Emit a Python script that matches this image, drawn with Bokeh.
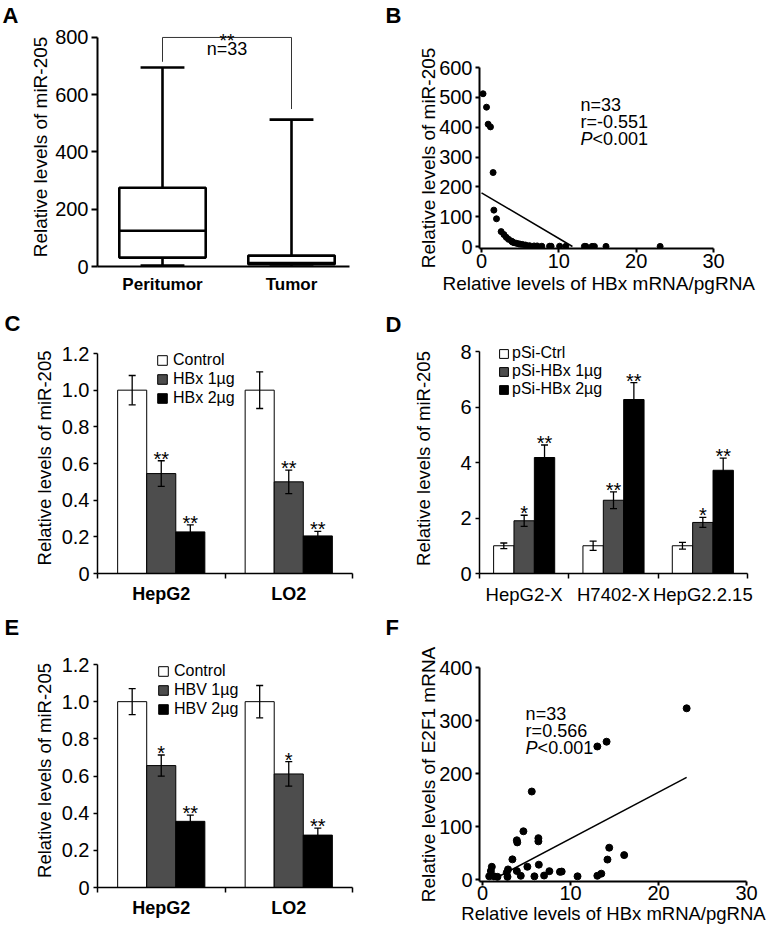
import numpy as np
from bokeh.plotting import figure
from bokeh.models import (ColumnDataSource, Whisker, TeeHead, Label, LabelSet, Legend,
                          LegendItem, FixedTicker, Range1d, Title)
from bokeh.layouts import row, column
from bokeh.embed import file_html
from bokeh.resources import INLINE
from bokeh.core.properties import value

FONT = "Liberation Sans"

# ===================== DATA =====================
# (A) box-plot summary of relative miR-205 levels (n = 33)
a_groups = ["Peritumor", "Tumor"]
a_low = [3, 0]
a_q1 = [31, 8]
a_median = [125, 12]
a_q3 = [275, 38]
a_high = [695, 513]
a_yticks = [0, 200, 400, 600, 800]
a_note = "n=33"
a_sig = "**"

# (B) miR-205 vs HBx mRNA/pgRNA
b_hbx = [0.2, 0.65, 0.86, 1.16, 1.5, 1.6, 1.94, 2.54, 2.9, 3.2, 3.5, 3.9, 4.0, 4.2, 4.5,
         4.8, 5.0, 5.3, 5.7, 6.2, 6.8, 7.2, 7.8, 8.8, 9.0, 10.1, 10.9, 13.3, 13.5, 14.3,
         14.6, 16.1, 23.1]
b_mir = [512, 467, 410, 401, 248, 122, 93, 50, 40, 31, 24, 18, 15, 13, 11, 9, 8, 7, 5, 3,
         2, 2, 1, 1, 1, 1, 1, 0.5, 0.5, 0.5, 0.5, 0.5, 0.5]
b_fit_intercept = 180.0
b_fit_slope = -15.3
b_fit_x = [0.0, 11.76]
b_stats = ["n=33", "r=-0.551", "<0.001"]
b_xticks = [0, 10, 20, 30]
b_yticks = [0, 100, 200, 300, 400, 500, 600]

# (C) HBx transfection
c_cells = ["HepG2", "LO2"]
c_series = ["Control", "HBx 1µg", "HBx 2µg"]
c_control = [1.0, 1.0]
c_hbx1 = [0.545, 0.50]
c_hbx2 = [0.227, 0.205]
c_control_err = [0.08, 0.10]
c_hbx1_err = [0.07, 0.064]
c_hbx2_err = [0.038, 0.025]
c_control_sig = ["", ""]
c_hbx1_sig = ["**", "**"]
c_hbx2_sig = ["**", "**"]
c_yticks = [0, 0.2, 0.4, 0.6, 0.8, 1.0, 1.2]
c_yticklabels = ["0", "0.2", "0.4", "0.6", "0.8", "1.0", "1.2"]

# (D) pSi-HBx
d_cells = ["HepG2-X", "H7402-X", "HepG2.2.15"]
d_series = ["pSi-Ctrl", "pSi-HBx 1µg", "pSi-HBx 2µg"]
d_ctrl = [1.0, 1.0, 1.0]
d_hbx1 = [1.9, 2.64, 1.84]
d_hbx2 = [4.18, 6.27, 3.72]
d_ctrl_err = [0.1, 0.17, 0.12]
d_hbx1_err = [0.2, 0.3, 0.18]
d_hbx2_err = [0.45, 0.61, 0.44]
d_ctrl_sig = ["", "", ""]
d_hbx1_sig = ["*", "**", "*"]
d_hbx2_sig = ["**", "**", "**"]
d_yticks = [0, 2, 4, 6, 8]
d_yticklabels = ["0", "2", "4", "6", "8"]

# (E) HBV transfection
e_cells = ["HepG2", "LO2"]
e_series = ["Control", "HBV 1µg", "HBV 2µg"]
e_control = [1.0, 1.0]
e_hbv1 = [0.656, 0.611]
e_hbv2 = [0.356, 0.282]
e_control_err = [0.07, 0.087]
e_hbv1_err = [0.057, 0.066]
e_hbv2_err = [0.034, 0.038]
e_control_sig = ["", ""]
e_hbv1_sig = ["*", "*"]
e_hbv2_sig = ["**", "**"]
e_yticks = [0, 0.2, 0.4, 0.6, 0.8, 1.0, 1.2]
e_yticklabels = ["0", "0.2", "0.4", "0.6", "0.8", "1.0", "1.2"]

# (F) E2F1 mRNA vs HBx mRNA/pgRNA
f_hbx = [23.2, 14.1, 13.05, 5.6, 4.65, 3.9, 3.95, 6.35, 6.35, 14.4, 16.1, 14.2, 3.4, 6.4,
         5.1, 1.06, 0.95, 0.76, 1.3, 1.7, 2.76, 2.9, 2.84, 3.9, 4.35, 5.9, 7.0, 7.6, 8.8,
         9.0, 10.8, 13.05, 13.5]
f_e2f1 = [323, 260, 251, 166, 91, 74, 70, 78, 72, 60, 46, 37.6, 38, 28, 24, 24, 16, 6, 6,
          5, 13, 19, 5, 16, 7, 6, 7.5, 15.7, 14.4, 15, 6, 7, 11]
f_fit_intercept = -10.5
f_fit_slope = 8.76
f_fit_x = [1.2, 23.2]
f_stats = ["n=33", "r=0.566", "<0.001"]
f_xticks = [0, 10, 20, 30]
f_yticks = [0, 100, 200, 300, 400]

BAR_COLORS = ["white", "#4d4d4d", "black"]

# ===================== LAYOUT (page pixels) =====================
W_L, W_R = 380, 390
H1, H2, H3 = 300, 310, 318
XL, XR = 0, W_L
Y1, Y2, Y3 = 0, H1, H1 + H2
LEFT_COL = (97, 352)     # frames in a column share left/right edges
RIGHT_COL = (479, 747)


def make_fig(fig_box, frame_box, xr, yr):
    fx, fy, fw, fh = fig_box
    L, R, T, B = frame_box
    p = figure(width=fw, height=fh, x_range=xr, y_range=yr, output_backend="svg",
               toolbar_location=None, title=None,
               min_border_left=L - fx, min_border_right=fx + fw - R,
               min_border_top=T - fy, min_border_bottom=fy + fh - B)
    p.xgrid.visible = False
    p.ygrid.visible = False
    p.outline_line_color = None
    return p


def style_axis(ax, lw, tick_fs="20px", label_fs="19px"):
    ax.axis_line_color = "black"
    ax.axis_line_width = lw
    ax.major_tick_line_color = "black"
    ax.major_tick_line_width = lw
    ax.major_tick_in = 0
    ax.major_tick_out = 5
    ax.minor_tick_line_color = None
    ax.major_label_text_font = FONT
    ax.major_label_text_font_size = tick_fs
    ax.major_label_text_color = "black"
    ax.axis_label_text_font = FONT
    ax.axis_label_text_font_style = "normal"
    ax.axis_label_text_font_size = label_fs
    ax.axis_label_text_color = "black"


def letter(p, text, frame_box, px, py):
    """Panel letter as a title above the frame (px = left edge, py = baseline, page px)."""
    L, R, T, B = frame_box
    gap = T - (py + 5)
    if gap > 1.5:
        p.add_layout(Title(text="\u00a0", text_font=FONT, text_font_size=f"{gap / 1.15:.1f}px",
                           standoff=0), "above")
    p.add_layout(Title(text=text, align="left", offset=px - L, standoff=0, text_font=FONT,
                       text_font_size="22px", text_font_style="bold", text_color="black"),
                 "above")


def stats_block(p, x, y, lines, step=17):
    common = dict(text_font=FONT, text_font_size="18px", text_color="black",
                  text_baseline="middle", text_align="left")
    p.add_layout(Label(x=x, y=y, text=lines[0], **common))
    p.add_layout(Label(x=x, y=y, y_offset=-step, text=lines[1], **common))
    p.add_layout(Label(x=x, y=y, y_offset=-2 * step, text="P", text_font_style="italic", **common))
    p.add_layout(Label(x=x, y=y, x_offset=12, y_offset=-2 * step, text=lines[2], **common))


def bar_panel(fig_box, frame_box, y_zero_px, y_ref_px, y_ref_val, cells, series, means, errs,
              sigs, yticks, yticklabels, ylabel, legend_loc, row_h, glyph_w, standoff,
              xlab_style, xlab_fs, ylab_standoff):
    L, R, T, B = frame_box
    n = len(cells)
    ppu = (y_zero_px - y_ref_px) / y_ref_val
    yr = Range1d((y_zero_px - B) / ppu, (y_zero_px - T) / ppu)
    p = make_fig(fig_box, frame_box, Range1d(0, n), yr)
    offsets = [-0.228, 0.0, 0.228]
    items = []
    for k, name in enumerate(series):
        xs = [i + 0.5 + offsets[k] for i in range(n)]
        src = ColumnDataSource(dict(
            x=xs, top=means[k],
            upper=[m + e for m, e in zip(means[k], errs[k])],
            lower=[m - e for m, e in zip(means[k], errs[k])],
            sig=sigs[k]))
        r = p.vbar(x="x", top="top", bottom=0, width=0.228, source=src,
                   fill_color=BAR_COLORS[k], line_color="black", line_width=1)
        items.append(LegendItem(label=name, renderers=[r]))
        p.add_layout(Whisker(source=src, base="x", upper="upper", lower="lower",
                             line_color="black", line_width=1.3, level="annotation",
                             upper_head=TeeHead(size=7, line_color="black", line_width=1.3),
                             lower_head=TeeHead(size=7, line_color="black", line_width=1.3)))
        p.add_layout(LabelSet(x="x", y="upper", text="sig", source=src, text_align="center",
                              text_baseline="alphabetic", y_offset=-5,
                              text_font=value(FONT), text_font_size="20px",
                              text_color="black"))
    leg = Legend(items=items, location=legend_loc, orientation="vertical", padding=0,
                 margin=0, spacing=0, glyph_width=glyph_w, glyph_height=glyph_w,
                 label_standoff=standoff, label_height=row_h, label_text_font=FONT,
                 label_text_font_size="16px", label_text_color="black",
                 border_line_color=None, background_fill_alpha=0)
    p.add_layout(leg)

    xa, ya = p.xaxis[0], p.yaxis[0]
    style_axis(xa, 1.5, tick_fs=xlab_fs)
    style_axis(ya, 1.5, label_fs="18.5px")
    xa.ticker = FixedTicker(ticks=[i + 0.5 for i in range(n)],
                            minor_ticks=[float(i) for i in range(n + 1)])
    xa.major_label_overrides = {i + 0.5: c for i, c in enumerate(cells)}
    xa.major_tick_line_color = None
    xa.major_tick_out = 0
    xa.minor_tick_line_color = "black"
    xa.minor_tick_line_width = 1.5
    xa.minor_tick_in = 0
    xa.minor_tick_out = 5
    xa.major_label_standoff = 5
    xa.major_label_text_font_style = xlab_style
    ya.ticker = FixedTicker(ticks=yticks, minor_ticks=[])
    ya.major_label_overrides = {t: s for t, s in zip(yticks, yticklabels)}
    ya.bounds = (yticks[0], yticks[-1])
    ya.major_tick_out = 4
    ya.major_label_standoff = 4
    ya.axis_label = ylabel
    ya.axis_label_standoff = ylab_standoff
    return p


# ---------- Panel A ----------
frA = (LEFT_COL[0], LEFT_COL[1], 26, 266)
ppA = (266 - 36) / 800.0
pA = make_fig((XL, Y1, W_L, H1), frA,
              Range1d(1 + (frA[0] - 162) / 129.0, 1 + (frA[1] - 162) / 129.0),
              Range1d(0, (266 - frA[2]) / ppA))
xsA = [1, 2]
half, cap = 0.335, 0.17
srcA = ColumnDataSource(dict(x=xsA, low=a_low, q1=a_q1, med=a_median, q3=a_q3, high=a_high,
                             left=[x - half for x in xsA], right=[x + half for x in xsA],
                             cl=[x - cap for x in xsA], cr=[x + cap for x in xsA]))
lwA = 2.6
pA.segment(x0="x", y0="q3", x1="x", y1="high", source=srcA, line_color="black", line_width=lwA)
pA.segment(x0="x", y0="low", x1="x", y1="q1", source=srcA, line_color="black", line_width=lwA)
pA.segment(x0="cl", y0="high", x1="cr", y1="high", source=srcA, line_color="black", line_width=lwA)
pA.segment(x0="cl", y0="low", x1="cr", y1="low", source=srcA, line_color="black", line_width=lwA)
pA.quad(left="left", right="right", bottom="q1", top="q3", source=srcA, fill_color="white",
        line_color="black", line_width=lwA)
pA.segment(x0="left", y0="med", x1="right", y1="med", source=srcA, line_color="black",
           line_width=lwA)
bracket_y = 800
pA.line(x=[xsA[0], xsA[0], xsA[1], xsA[1]],
        y=[a_high[0] + 20, bracket_y, bracket_y, a_high[1] + 37],
        line_color="#333333", line_width=1)
pA.add_layout(Label(x=1.5, y=bracket_y, y_offset=-3, text=a_sig, text_align="center",
                    text_baseline="alphabetic", text_font=FONT, text_font_size="19px",
                    text_color="black"))
pA.add_layout(Label(x=1.5, y=758, text=a_note, text_align="center", text_baseline="middle",
                    text_font=FONT, text_font_size="18px", text_color="black"))
xa, ya = pA.xaxis[0], pA.yaxis[0]
style_axis(xa, 2, tick_fs="17px")
style_axis(ya, 2)
xa.ticker = FixedTicker(ticks=xsA, minor_ticks=[])
xa.major_label_overrides = {x: g for x, g in zip(xsA, a_groups)}
xa.major_label_text_font_style = "bold"
xa.major_tick_line_color = None
xa.major_tick_out = 0
xa.major_label_standoff = 8
xa.bounds = (pA.x_range.start, 2 + (349 - 291) / 129.0)
ya.ticker = FixedTicker(ticks=a_yticks, minor_ticks=[])
ya.bounds = (0, 800)
ya.major_tick_out = 6
ya.major_label_standoff = 3
ya.axis_label = "Relative levels of miR-205"
ya.axis_label_standoff = 1
letter(pA, "A", frA, 2, 20)

# ---------- Panel B ----------
frB = (RIGHT_COL[0], RIGHT_COL[1], 64, 248)
pxB = (713 - 481) / 30.0
ppB = (246 - 64) / 600.0
pB = make_fig((XR, Y1, W_R, H1), frB,
              Range1d((frB[0] - 481) / pxB, (frB[1] - 481) / pxB),
              Range1d((246 - frB[3]) / ppB, (246 - frB[2]) / ppB))
pB.scatter(b_hbx, b_mir, size=6, color="black")
bx = np.array(b_fit_x)
pB.line(bx, b_fit_intercept + b_fit_slope * bx, line_color="black", line_width=1.5)
stats_block(pB, 12.8, 475, b_stats)
xa, ya = pB.xaxis[0], pB.yaxis[0]
style_axis(xa, 2)
style_axis(ya, 2)
xa.ticker = FixedTicker(ticks=b_xticks, minor_ticks=[])
xa.bounds = (pB.x_range.start, 30)
xa.major_tick_out = 4
xa.major_label_standoff = 1
# x-axis title placed under the 0-30 span (the frame is wider, shared with panel D)
pB.add_layout(Title(text="Relative levels of HBx mRNA/pgRNA", align="left", offset=442 - frB[0],
                    standoff=0, text_font=FONT, text_font_size="19px",
                    text_font_style="normal", text_color="black"), "below")
ya.ticker = FixedTicker(ticks=b_yticks, minor_ticks=[])
ya.bounds = (pB.y_range.start, 600)
ya.major_tick_out = 4
ya.major_label_standoff = 3
ya.axis_label = "Relative levels of miR-205"
ya.axis_label_standoff = -3
letter(pB, "B", frB, 385, 20)

# ---------- Panel C ----------
frC = (LEFT_COL[0], LEFT_COL[1], 342, 573)
pC = bar_panel((XL, Y2, W_L, H2), frC, 573, 353, 1.2, c_cells, c_series,
               [c_control, c_hbx1, c_hbx2], [c_control_err, c_hbx1_err, c_hbx2_err],
               [c_control_sig, c_hbx1_sig, c_hbx2_sig], c_yticks, c_yticklabels,
               "Relative levels of miR-205", (59, 165.5), 19, 12, 5, "bold", "18px", 4)
letter(pC, "C", frC, 4, 332)

# ---------- Panel D ----------
frD = (RIGHT_COL[0], RIGHT_COL[1], 343, 573)
pD = bar_panel((XR, Y2, W_R, H2), frD, 573, 351, 8, d_cells, d_series,
               [d_ctrl, d_hbx1, d_hbx2], [d_ctrl_err, d_hbx1_err, d_hbx2_err],
               [d_ctrl_sig, d_hbx1_sig, d_hbx2_sig], d_yticks, d_yticklabels,
               "Relative levels of miR-205", (19, 175), 18, 11, 3, "normal", "18.5px", 23)
letter(pD, "D", frD, 385, 333)

# ---------- Panel E ----------
frE = (LEFT_COL[0], LEFT_COL[1], 653, 887)
pE = bar_panel((XL, Y3, W_L, H3), frE, 887, 664, 1.2, e_cells, e_series,
               [e_control, e_hbv1, e_hbv2], [e_control_err, e_hbv1_err, e_hbv2_err],
               [e_control_sig, e_hbv1_sig, e_hbv2_sig], e_yticks, e_yticklabels,
               "Relative levels of miR-205", (60, 168.5), 19, 12, 5, "bold", "18px", 4)
letter(pE, "E", frE, 4, 635)

# ---------- Panel F ----------
frF = (RIGHT_COL[0], RIGHT_COL[1], 667, 881)
pxF = (746 - 482) / 30.0
ppF = (879 - 667) / 400.0
pF = make_fig((XR, Y3, W_R, H3), frF,
              Range1d((frF[0] - 482) / pxF, (frF[1] - 482) / pxF),
              Range1d((879 - frF[3]) / ppF, (879 - frF[2]) / ppF))
pF.scatter(f_hbx, f_e2f1, size=7, color="black")
fxl = np.array(f_fit_x)
pF.line(fxl, f_fit_intercept + f_fit_slope * fxl, line_color="black", line_width=1.5)
stats_block(pF, 4.9, 313, f_stats)
xa, ya = pF.xaxis[0], pF.yaxis[0]
style_axis(xa, 2, label_fs="18.5px")
style_axis(ya, 2)
xa.ticker = FixedTicker(ticks=f_xticks, minor_ticks=[])
xa.bounds = (pF.x_range.start, 30)
xa.major_tick_out = 4
xa.major_label_standoff = 0
xa.axis_label = "Relative levels of HBx mRNA/pgRNA"
xa.axis_label_standoff = 0
ya.ticker = FixedTicker(ticks=f_yticks, minor_ticks=[])
ya.bounds = (pF.y_range.start, 400)
ya.major_tick_out = 4
ya.major_label_standoff = 3
ya.axis_label = "Relative levels of E2F1 mRNA"
ya.axis_label_standoff = -3
letter(pF, "F", frF, 385, 635)

layout = row(column(pA, pC, pE), column(pB, pD, pF))
open("out.html", "w").write(file_html(layout, INLINE))
